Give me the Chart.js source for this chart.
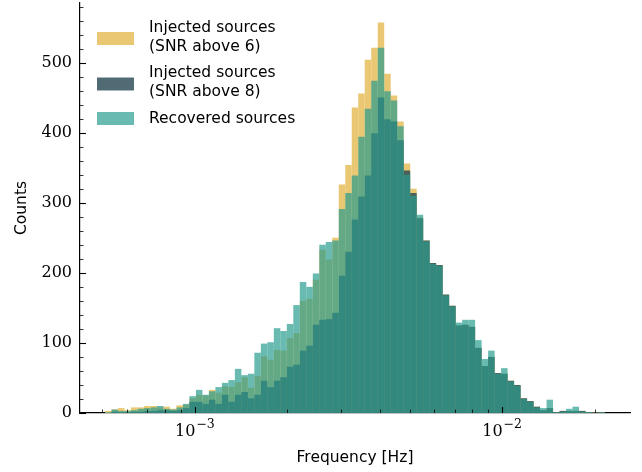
<!DOCTYPE html>
<html>
<head>
<meta charset="utf-8">
<script src="https://cdn.jsdelivr.net/npm/chart.js@4.4.1/dist/chart.umd.min.js"></script>
<style>
  body { margin: 0; background: #fff; }
  canvas { display: block; }
</style>
</head>
<body>
<canvas id="freqHist" width="642" height="472"></canvas>
<script>
// histogram bins: log10 of first edge and width of a bin (decades)
const binLogStart = -3.2927;
const binLogWidth = 0.021138;

const injectedSnr6 = [
  3, 5, 7, 4, 8, 8, 10, 10, 8, 9, 6, 11, 12, 21, 26, 25, 33, 29, 38, 37,
  44, 51, 36, 53, 81, 76, 90, 89, 107, 114, 160, 163, 190, 233, 219, 250, 326, 354, 436, 456,
  504, 521, 557, 484, 453, 416, 356, 320, 279, 246, 214, 211, 169, 153, 125, 126, 123, 93, 67, 80,
  57, 56, 46, 40, 21, 17, 9, 4, 7, 1, 3, 3, 3, 3, 1, 1, 1
];
const injectedSnr8 = [
  0, 2, 1, 1, 2, 2, 3, 3, 4, 4, 3, 4, 7, 16, 16, 13, 19, 13, 26, 16,
  26, 30, 21, 26, 46, 37, 46, 51, 66, 69, 89, 96, 126, 133, 134, 143, 196, 230, 276, 309,
  339, 399, 450, 419, 416, 389, 346, 314, 278, 246, 214, 211, 169, 153, 125, 126, 123, 93, 67, 80,
  57, 56, 46, 40, 21, 17, 9, 4, 7, 1, 3, 3, 3, 3, 1, 1, 1
];
const recovered = [
  1, 5, 3, 3, 4, 6, 7, 8, 10, 6, 5, 8, 13, 24, 33, 26, 31, 37, 43, 47,
  63, 54, 56, 86, 99, 101, 121, 117, 127, 154, 187, 180, 199, 240, 244, 246, 291, 314, 339, 394,
  434, 474, 521, 459, 446, 409, 340, 310, 283, 245, 213, 210, 168, 152, 129, 133, 133, 104, 77, 89,
  56, 64, 45, 39, 20, 16, 8, 7, 19, 1, 2, 6, 9, 2, 1, 0, 1
];

const xMajorTicks = [1e-3, 1e-2];
const xMinorTicks = [5e-4, 6e-4, 7e-4, 8e-4, 9e-4, 2e-3, 3e-3, 4e-3, 5e-3, 6e-3, 7e-3, 8e-3, 9e-3, 2e-2];
const yTicks = [0, 100, 200, 300, 400, 500];
const yMinorTicks = [20, 40, 60, 80, 120, 140, 160, 180, 220, 240, 260, 280, 320, 340, 360, 380,
  420, 440, 460, 480, 520, 540, 560, 580];

const binCenters = injectedSnr6.map((_, k) => Math.pow(10, binLogStart + (k + 0.5) * binLogWidth));
const toPoints = arr => arr.map((v, k) => ({ x: binCenters[k], y: v }));

const sansFont = 'DejaVu Sans';
const serifFont = 'DejaVu Serif';

const barDefaults = {
  grouped: false,
  barPercentage: 1,
  categoryPercentage: 1,
  borderWidth: 0,
  inflateAmount: 0
};

// inward ticks, 10^n labels and the legend inside the axes
const axisDecor = {
  id: 'axisDecor',
  afterDraw(chart) {
    const { ctx, chartArea: a, scales: { x, y } } = chart;
    ctx.save();
    ctx.strokeStyle = '#000';

    function seg(x1, y1, x2, y2, w) {
      ctx.lineWidth = w;
      ctx.beginPath();
      ctx.moveTo(x1, y1);
      ctx.lineTo(x2, y2);
      ctx.stroke();
    }
    yTicks.forEach(v => {
      const py = Math.round(y.getPixelForValue(v)) + 0.5;
      seg(a.left, py, a.left + 6, py, 1.1);
    });
    yMinorTicks.forEach(v => {
      const py = Math.round(y.getPixelForValue(v)) + 0.5;
      seg(a.left, py, a.left + 3.5, py, 0.8);
    });
    xMajorTicks.forEach(v => {
      const px = Math.round(x.getPixelForValue(v)) + 0.5;
      seg(px, a.bottom, px, a.bottom - 6, 1.1);
    });
    xMinorTicks.forEach(v => {
      const px = Math.round(x.getPixelForValue(v)) + 0.5;
      seg(px, a.bottom, px, a.bottom - 3.5, 0.8);
    });

    // tick labels 10^n
    ctx.fillStyle = '#000';
    ctx.textBaseline = 'alphabetic';
    ctx.textAlign = 'left';
    xMajorTicks.forEach(v => {
      const px = x.getPixelForValue(v);
      const n = Math.round(Math.log10(v));
      const sup = (n < 0 ? '\u2212' : '') + Math.abs(n);
      ctx.font = '16px "' + serifFont + '"';
      const wBase = ctx.measureText('10').width;
      ctx.font = '12.5px "' + serifFont + '"';
      const wSup = ctx.measureText(sup).width;
      const left = px - (wBase + wSup + 1) / 2;
      ctx.font = '16px "' + serifFont + '"';
      ctx.fillText('10', left, a.bottom + 23);
      ctx.font = '12.5px "' + serifFont + '"';
      ctx.fillText(sup, left + wBase + 1, a.bottom + 15);
    });

    // legend
    ctx.font = '15.5px "' + sansFont + '"';
    ctx.textBaseline = 'middle';
    let top = a.top + 15;
    const lineH = 19;
    chart.data.datasets.forEach(ds => {
      const lines = Array.isArray(ds.label) ? ds.label : [ds.label];
      const h = lines.length * lineH;
      const mid = top + h / 2 + (lines.length > 1 ? 1.5 : 0);
      ctx.fillStyle = ds.backgroundColor;
      ctx.fillRect(a.left + 17, mid - 6.5, 37, 13);
      ctx.fillStyle = '#000';
      lines.forEach((t, i) => ctx.fillText(t, a.left + 69, top + lineH / 2 + i * lineH));
      top += h + 7.5;
    });
    ctx.restore();
  }
};

new Chart(document.getElementById('freqHist'), {
  type: 'bar',
  data: {
    datasets: [
      { ...barDefaults, label: ['Injected sources', '(SNR above 6)'], data: toPoints(injectedSnr6),
        backgroundColor: 'rgba(233,196,106,0.95)', order: 3 },
      { ...barDefaults, label: ['Injected sources', '(SNR above 8)'], data: toPoints(injectedSnr8),
        backgroundColor: 'rgba(38,70,83,0.8)', order: 2 },
      { ...barDefaults, label: 'Recovered sources', data: toPoints(recovered),
        backgroundColor: 'rgba(42,157,143,0.7)', order: 1 }
    ]
  },
  options: {
    responsive: false,
    animation: false,
    layout: { padding: { left: 0, right: 12, top: 3, bottom: 0 } },
    scales: {
      x: {
        type: 'logarithmic',
        min: Math.pow(10, -3.3741),
        max: Math.pow(10, -1.5837),
        bounds: 'data',
        offset: false,
        grid: { display: false, drawTicks: false, offset: false },
        border: { display: true, color: '#000', width: 1.2 },
        ticks: { display: false },
        afterBuildTicks: s => { s.ticks = xMajorTicks.map(v => ({ value: v })); },
        afterFit: s => { s.height = 59; s.paddingLeft = 0; s.paddingRight = 0; },
        title: {
          display: true, text: 'Frequency [Hz]', color: '#000',
          font: { family: sansFont, size: 15.5 }, padding: { top: 0, bottom: 5 }
        }
      },
      y: {
        min: 0,
        max: 585,
        grid: { display: false, drawTicks: false },
        border: { display: true, color: '#000', width: 1.2 },
        ticks: { color: '#000', padding: 8, font: { family: serifFont, size: 16 } },
        afterBuildTicks: s => { s.ticks = yTicks.map(v => ({ value: v })); },
        afterFit: s => { s.width = 80; s.paddingTop = 0; s.paddingBottom = 0; },
        title: {
          display: true, text: 'Counts', color: '#000',
          font: { family: sansFont, size: 15.5 }, padding: { top: 13, bottom: 0 }
        }
      }
    },
    plugins: {
      legend: { display: false },
      tooltip: { enabled: false }
    }
  },
  plugins: [axisDecor]
});
</script>
</body>
</html>
